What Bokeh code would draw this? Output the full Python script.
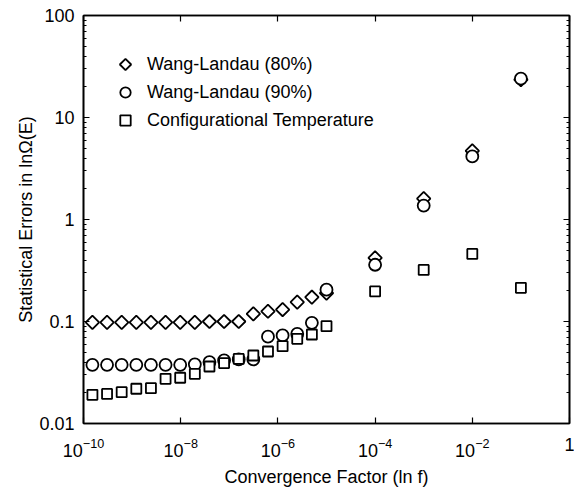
import numpy as np
from bokeh.plotting import figure
from bokeh.models import (LogAxis, FixedTicker, LogTickFormatter, CustomJSTickFormatter,
                          Legend, LegendItem, Range1d, LinearScale)
from bokeh.embed import file_html
from bokeh.resources import INLINE

# Convergence factor ln f
ln_f = [1.526e-10, 3.052e-10, 6.104e-10, 1.221e-9, 2.441e-9, 4.883e-9, 9.766e-9,
        1.953e-8, 3.906e-8, 7.813e-8, 1.563e-7, 3.125e-7, 6.25e-7, 1.25e-6,
        2.5e-6, 5e-6, 1e-5, 1e-4, 1e-3, 1e-2, 1e-1]

# Statistical errors in ln Omega(E)
wl80 = [0.098, 0.098, 0.098, 0.098, 0.098, 0.098, 0.098, 0.098, 0.1, 0.1, 0.1,
        0.119, 0.126, 0.131, 0.155, 0.173, 0.19, 0.42, 1.6, 4.7, 23.5]
wl90 = [0.0376, 0.0376, 0.0376, 0.0376, 0.0376, 0.0376, 0.0376, 0.038, 0.040,
        0.0415, 0.0425, 0.0425, 0.071, 0.073, 0.0755, 0.097, 0.205, 0.36, 1.37,
        4.15, 24.0]
conf_temp = [0.0191, 0.0195, 0.0203, 0.0219, 0.0222, 0.0274, 0.0281, 0.0307,
             0.0362, 0.0391, 0.043, 0.0464, 0.0508, 0.0573, 0.0676, 0.0746, 0.090,
             0.197, 0.32, 0.46, 0.214]

series_labels = ["Wang-Landau (80%)", "Wang-Landau (90%)", "Configurational Temperature"]

x_ticks = [1e-10, 1e-8, 1e-6, 1e-4, 1e-2, 1]
y_ticks = [0.01, 0.1, 1, 10, 100]
y_minor = [m * 10.0 ** e for e in range(-2, 2) for m in range(2, 10)]

FONT = "Liberation Sans"
FW, FH = 486, 408

p = figure(x_axis_type="log", y_axis_type="log",
           x_range=Range1d(1e-10, 1), y_range=Range1d(0.01, 100),
           frame_width=FW, frame_height=FH,
           min_border_left=83, min_border_right=5, min_border_top=15, min_border_bottom=70,
           output_backend="svg", toolbar_location=None)
p.grid.visible = False
p.outline_line_color = "black"
p.outline_line_width = 1.6
p.background_fill_color = "white"
p.border_fill_color = "white"

# pixel-like helper ranges for the legend key of the diamond series
p.extra_x_ranges = {"px": Range1d(0, FW)}
p.extra_x_scales = {"px": LinearScale()}
p.extra_y_ranges = {"py": Range1d(0, FH)}
p.extra_y_scales = {"py": LinearScale()}

xt = FixedTicker(ticks=x_ticks, minor_ticks=[])
yt = FixedTicker(ticks=y_ticks, minor_ticks=y_minor)


def style(ax):
    ax.major_tick_in = 6
    ax.major_tick_out = 0
    ax.minor_tick_in = 3
    ax.minor_tick_out = 0
    ax.axis_line_color = "black"
    ax.axis_line_width = 1.6
    ax.major_tick_line_width = 1.2
    ax.minor_tick_line_width = 1.0
    ax.major_label_text_font = FONT
    ax.major_label_text_font_size = "18px"
    ax.major_label_text_color = "black"
    ax.axis_label_text_font = FONT
    ax.axis_label_text_font_size = "18px"
    ax.axis_label_text_font_style = "normal"
    ax.axis_label_text_color = "black"


xa = p.xaxis[0]
xa.ticker = xt
xa.formatter = LogTickFormatter(min_exponent=1)
style(xa)
xa.major_label_standoff = 14
xa.axis_label = "Convergence Factor (ln f)"
xa.axis_label_standoff = 7

ya = p.yaxis[0]
ya.ticker = yt
ya.formatter = LogTickFormatter(min_exponent=3)
style(ya)
ya.major_label_standoff = 9
ya.axis_label = "Statistical Errors in lnΩ(E)"
ya.axis_label_standoff = 0

blank = CustomJSTickFormatter(code="return ''")
top = LogAxis(ticker=FixedTicker(ticks=x_ticks, minor_ticks=[]), formatter=blank)
style(top)
top.major_label_standoff = 0
p.add_layout(top, "above")
right = LogAxis(ticker=FixedTicker(ticks=y_ticks, minor_ticks=y_minor), formatter=blank)
style(right)
right.major_label_standoff = 0
p.add_layout(right, "right")

common = dict(fill_color="white", line_color="black", line_width=1.8)
r80 = p.scatter(ln_f, wl80, marker="square", angle=np.pi / 4, size=9.5, **common)
r90 = p.scatter(ln_f, wl90, marker="circle", size=12, **common)
rct = p.scatter(ln_f, conf_temp, marker="square", size=10, **common)

# legend: the key of the rotated-square series is drawn separately (legend ignores angle)
LEG_X, LEG_Y_TOP, ROW_H = 29, 36, 28
key_dummy = p.scatter(x=[], y=[], marker="square", fill_alpha=0, line_alpha=0)
p.scatter(x=[LEG_X + 13], y=[FH - LEG_Y_TOP - 13], x_range_name="px", y_range_name="py",
          marker="square", angle=np.pi / 4, size=8, **common)

legend = Legend(items=[LegendItem(label=series_labels[0], renderers=[key_dummy]),
                       LegendItem(label=series_labels[1], renderers=[r90]),
                       LegendItem(label=series_labels[2], renderers=[rct])],
                location=(LEG_X, FH - LEG_Y_TOP - 3 * 26 - 2 * 2), padding=0, margin=0,
                spacing=2, glyph_width=26, glyph_height=26, label_height=26,
                label_standoff=9, label_text_font=FONT, label_text_font_size="18px",
                label_text_color="black",
                border_line_color=None, background_fill_alpha=0)
p.add_layout(legend)

open("out.html", "w").write(file_html(p, INLINE))
